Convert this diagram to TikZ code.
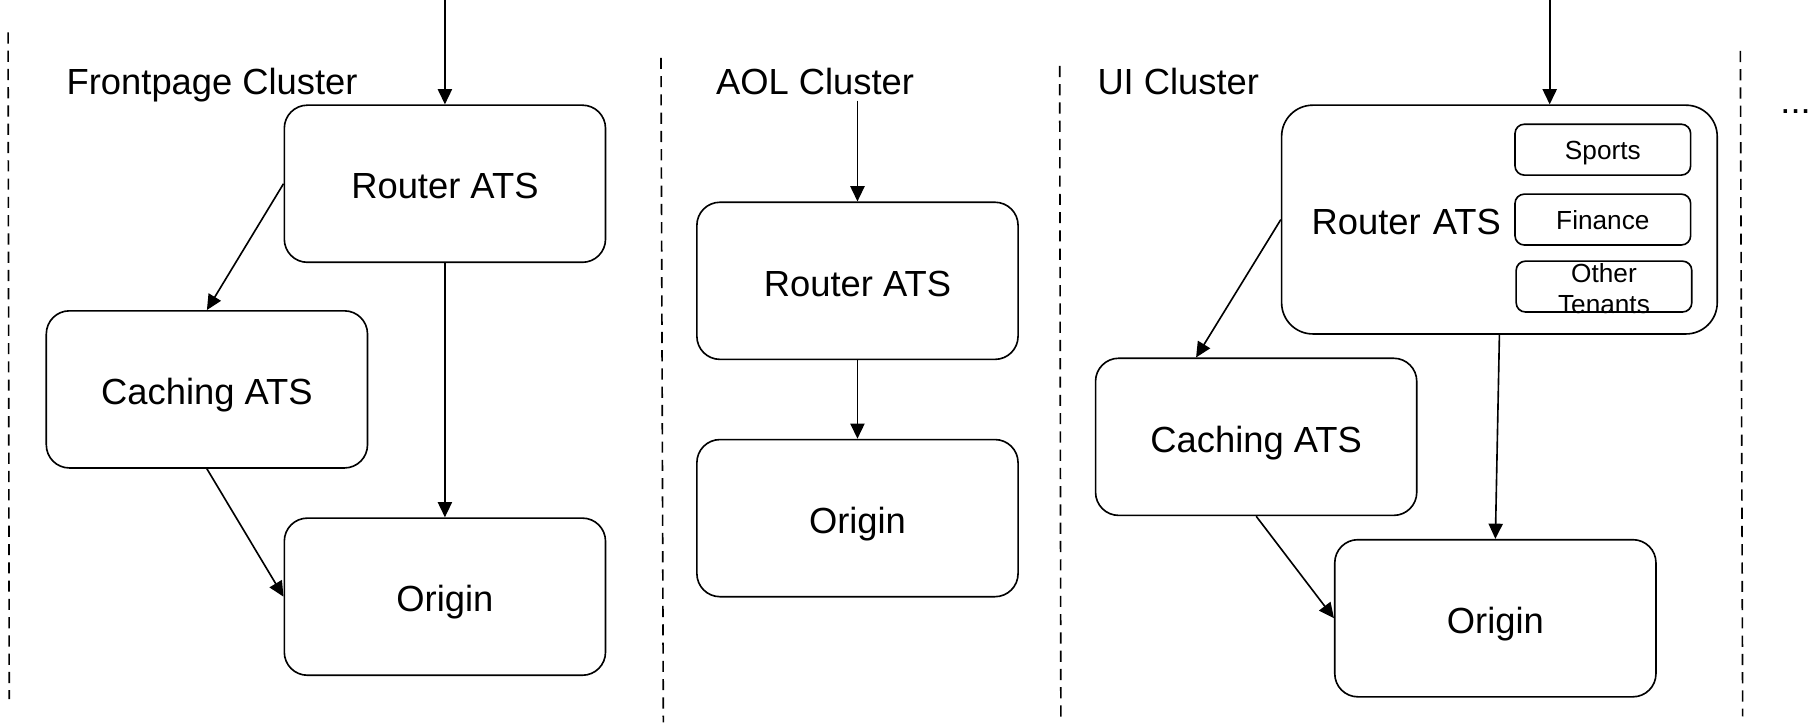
\documentclass[tikz,border=0pt]{standalone}
\usepackage{fontspec}
\setmainfont{Liberation Sans}
\usetikzlibrary{arrows.meta,positioning,calc}

\tikzset{
    cluster/.style={anchor=base west,inner sep=0pt,font=\fontsize{17.9}{21}\selectfont},
    ats/.style={rectangle,draw,rounded corners=0.4cm,minimum width=5.56cm,minimum height=2.72cm,text height=15pt,text depth=0pt,font=\fontsize{17.9}{21}\selectfont},
    tenant/.style={rectangle,draw,rounded corners=0.16cm,minimum width=3.04cm,minimum height=0.88cm,font=\fontsize{12.9}{15.5}\selectfont},
    divider/.style={dash pattern=on 5.5pt off 3.5pt},
    flow/.style={-{Triangle[length=7.5pt,width=7pt]}}
}

\begin{document}
\begin{tikzpicture}[x=0.02cm,y=-0.02cm,line width=0.8pt]
    \useasboundingbox (0,0) rectangle (1568,625);
    % dividers
    \draw[divider] (7,28) -- (8,605);
    \draw[divider] (572,50) -- (574,625);
    \draw[divider] (917,57) -- (918,625);
    \draw[divider] (1506,44) -- (1508,620);
    % Frontpage Cluster
    \node[cluster] (node0) at (57,81.5) {Frontpage Cluster};
    \node[ats] (node1) at (385,159) {Router ATS};
    \node[ats,xshift=-4.12cm,yshift=-3.56cm] (node2) at (node1) {Caching ATS};
    \node[ats,anchor=north,yshift=-4.4cm] (node3) at (node1.south) {Origin};
    \coordinate (node4) at (385,0);
    \draw[flow] (node4) -- (node1);
    \draw[flow] (node1.west) -- (node2.north);
    \draw[flow] (node1.south) -- (node3.north);
    \draw[flow] (node2.south) -- (node3.west);
    % AOL Cluster
    \node[cluster] (node5) at (619,81.5) {AOL Cluster};
    \node[ats] (node6) at (742,243) {Router ATS};
    \node[ats,anchor=north,yshift=-1.36cm] (node7) at (node6.south) {Origin};
    \coordinate (node8) at (742,87);
    \draw[flow] (node8) -- (node6);
    \draw[flow] (node6) -- (node7);
    % UI Cluster
    \node[cluster] (node9) at (949,81.5) {UI Cluster};
    \node[ats,minimum width=7.54cm,minimum height=3.96cm,rounded corners=0.54cm,text width=6.5cm,inner xsep=0.52cm,align=left] (node10) at (1297.5,190) {Router ATS};
    \node[tenant,text height=9.5pt,text depth=0pt,anchor=east,xshift=-0.46cm,yshift=1.21cm] (node11) at (node10.east) {Sports};
    \node[tenant,text height=9.5pt,text depth=0pt,anchor=east,xshift=-0.46cm] (node12) at (node10.east) {Finance};
    \node[tenant,anchor=east,xshift=-0.44cm,yshift=-1.16cm,label={[font=\fontsize{12.9}{15.5}\selectfont,align=center,yshift=-1pt]center:Other\\Tenants}] (node13) at (node10.east) {};
    \node[ats] (node14) at (1087,378) {Caching ATS};
    \node[ats] (node15) at (1294,535) {Origin};
    \coordinate (node16) at (1341,0);
    \draw[flow] (node16) -- (node16 |- node10.north);
    \draw[flow] (node10.west) -- ([xshift=-1.04cm]node14.north);
    \draw[flow] (node10.south) -- (node15.north);
    \draw[flow] (node14.south) -- (node15.west);
    % more clusters
    \node[cluster] (node17) at (1540,98) {...};
\end{tikzpicture}
\end{document}
